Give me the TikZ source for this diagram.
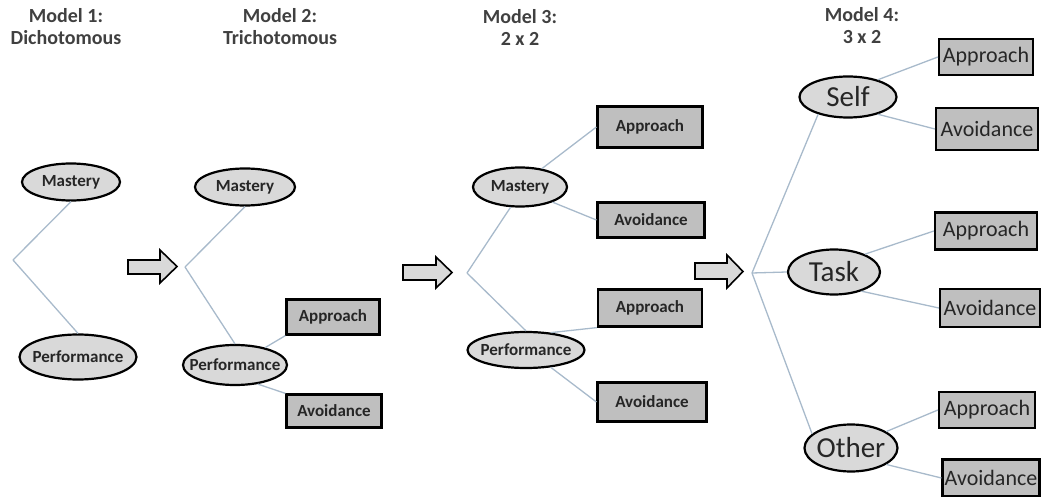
\documentclass[tikz,border=0pt]{standalone}
\usepackage{fontspec}
\setmainfont{Carlito}
\usetikzlibrary{shapes.geometric}
\definecolor{ellfill}{HTML}{D9D9D9}
\definecolor{boxfill}{HTML}{BFBFBF}
\definecolor{linkc}{HTML}{A8BACB}
\newcommand{\zw}[1]{\makebox[0pt]{#1}}
\tikzset{
  ell/.style={ellipse, draw=black, line width=2.2pt, fill=ellfill, inner sep=0pt, font=\bfseries\fontsize{17}{17}\selectfont, text=black!85},
  bigell/.style={ellipse, draw=black, line width=2.2pt, fill=ellfill, inner sep=0pt, font=\fontsize{29}{29}\selectfont, text=black!85},
  gbox/.style={rectangle, draw=black, line width=2.2pt, fill=boxfill, inner sep=0pt, font=\bfseries\fontsize{17}{17}\selectfont, text=black!85},
  bigbox/.style={rectangle, draw=black, line width=2.2pt, fill=boxfill, inner sep=0pt, font=\fontsize{22}{22}\selectfont, text=black!85},
  link/.style={draw=linkc, line width=1.3pt},
  title/.style={align=center, font=\bfseries\fontsize{20}{22}\selectfont, text=black!75},
  blockarrow/.style={draw=black, line width=1.6pt, fill=ellfill, line join=miter}
}
\begin{document}
\begin{tikzpicture}[x=1pt,y=-1pt]
\useasboundingbox (0,0) rectangle (1042,497);
% titles
\node[title] (t1) at (66,27) {Model 1:\\Dichotomous};
\node[title] (t2) at (280,27) {Model 2:\\Trichotomous};
\node[title] (t3) at (520,27) {Model 3:\\2 x 2};
\node[title] (t4) at (862,26) {Model 4:\\3 x 2};

% Model 1
\coordinate (b1) at (13,260);
\node[ell, minimum width=98, minimum height=37] (m1) at (71,182) {\zw{Mastery}};
\node[ell, minimum width=117, minimum height=45] (p1) at (78,357) {\zw{Performance}};
\draw[link] (b1) -- (m1.south);
\draw[link] (b1) -- (p1.north);

% arrow 1
\draw[blockarrow] (128,260) -- (160,260) -- (160,250) -- (177,266.5) -- (160,283) -- (160,274) -- (128,274) -- cycle;

% Model 2
\coordinate (b2) at (185,267);
\node[ell, minimum width=100, minimum height=37] (m2) at (245,187) {\zw{Mastery}};
\node[ell, minimum width=104, minimum height=40] (p2) at (235,365) {\zw{Performance}};
\node[gbox, minimum width=93, minimum height=35] (a2) at (333,317) {Approach};
\node[gbox, minimum width=95, minimum height=33] (v2) at (334,411) {Avoidance};
\draw[link] (b2) -- (m2.south);
\draw[link] (b2) -- (p2.north);
\draw[link] (p2.30) -- (a2.south west);
\draw[link] (p2.-40) -- (v2.north west);

% arrow 2
\draw[blockarrow] (403,265) -- (436,265) -- (436,257) -- (452,272.5) -- (436,288) -- (436,280) -- (403,280) -- cycle;

% Model 3
\coordinate (b3) at (467,273);
\node[ell, minimum width=94, minimum height=39] (m3) at (520,187) {\zw{Mastery}};
\node[ell, minimum width=117, minimum height=36] (p3) at (526,350) {\zw{Performance}};
\node[gbox, minimum width=105, minimum height=41] (a3) at (650,127) {Approach};
\node[gbox, minimum width=107, minimum height=35] (v3) at (651,220) {Avoidance};
\node[gbox, minimum width=104, minimum height=37] (a3b) at (650,308) {Approach};
\node[gbox, minimum width=109, minimum height=39] (v3b) at (652,402) {Avoidance};
\draw[link] (b3) -- (m3.-115);
\draw[link] (b3) -- (p3.north);
\draw[link] (m3.40) -- (a3.west);
\draw[link] (m3.-25) -- (v3.west);
\draw[link] (p3.35) -- (a3b.south west);
\draw[link] (p3.-35) -- (v3b.west);

% arrow 3
\draw[blockarrow] (695,263) -- (727,263) -- (727,255) -- (743,271.5) -- (727,288) -- (727,279) -- (695,279) -- cycle;

% Model 4
\coordinate (b4) at (752,273);
\node[bigell, minimum width=97, minimum height=41] (s4) at (848,97) {\zw{Self}};
\node[bigell, minimum width=92, minimum height=45] (k4) at (834,272) {\zw{Task}};
\node[bigell, minimum width=93, minimum height=47] (o4) at (851,448) {\zw{Other}};
\node[bigbox, minimum width=94, minimum height=36] (sa) at (986,57) {Approach};
\node[bigbox, minimum width=102, minimum height=42] (sv) at (987,129) {Avoidance};
\node[bigbox, minimum width=102, minimum height=37] (ka) at (986,231) {Approach};
\node[bigbox, minimum width=100, minimum height=38] (kv) at (990,308) {Avoidance};
\node[bigbox, minimum width=96, minimum height=36] (oa) at (987,410) {Approach};
\node[bigbox, minimum width=97, minimum height=37] (ov) at (991,478) {Avoidance};
\draw[link] (b4) -- (s4.-150);
\draw[link] (b4) -- (k4.west);
\draw[link] (b4) -- (o4.160);
\draw[link] (s4.30) -- (sa.west);
\draw[link] (s4.-30) -- (sv.west);
\draw[link] (k4.30) -- (ka.west);
\draw[link] (k4.-35) -- (kv.west);
\draw[link] (o4.25) -- (oa.west);
\draw[link] (o4.-25) -- (ov.west);
\end{tikzpicture}
\end{document}
